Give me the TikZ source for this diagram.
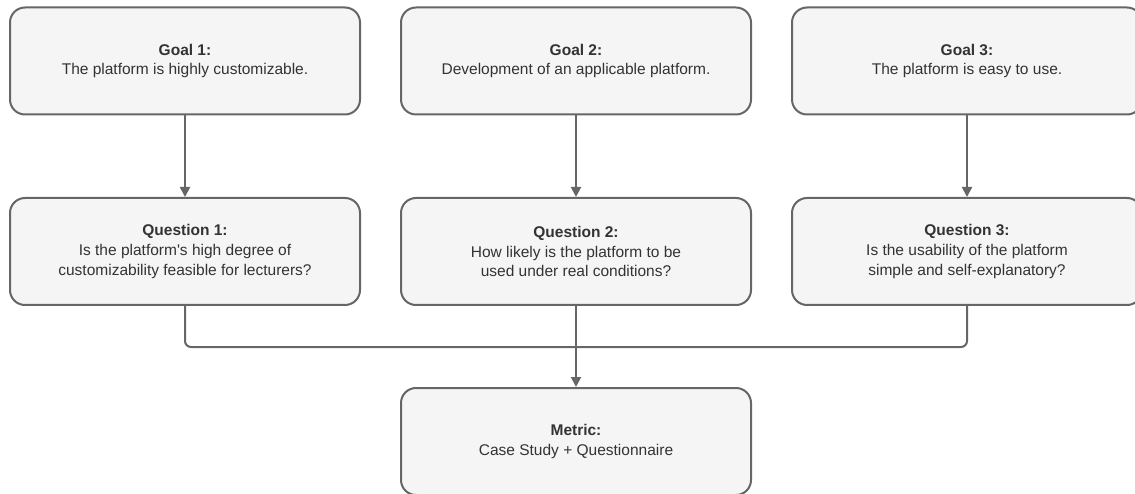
\documentclass[tikz,border=0pt]{standalone}
\usepackage{fontspec}
\setmainfont{Liberation Sans}[Ligatures=TeXOff]
\usetikzlibrary{arrows.meta}
\definecolor{boxfill}{HTML}{F5F5F5}
\definecolor{boxline}{HTML}{666666}
\definecolor{boxtext}{HTML}{333333}
\tikzset{
  box/.style={draw=boxline, fill=boxfill, line width=2pt, rounded corners=15pt,
    minimum width=350pt, minimum height=107pt, align=center, inner sep=0pt,
    font=\fontsize{15.5}{19.8}\selectfont, text=boxtext},
  link/.style={draw=boxline, line width=2pt, rounded corners=6pt},
  arrow/.style={link, -{Triangle[length=10pt, width=10pt]}}
}
\begin{document}
\begin{tikzpicture}[x=1pt, y=-1pt]
  \useasboundingbox (0,0) rectangle (1135,494);
  % goals
  \node[box] (g1) at (185,61) {\textbf{Goal 1:}\\The platform is highly customizable.};
  \node[box] (g2) at (576,61) {\textbf{Goal 2:}\\Development of an applicable platform.};
  \node[box] (g3) at (967,61) {\textbf{Goal 3:}\\The platform is easy to use.};
  % questions
  \node[box] (q1) at (185,251.5) {\textbf{Question 1:}\\Is the platform's high degree of\\customizability feasible for lecturers?};
  \node[box] (q2) at (576,251.5) {\textbf{Question 2:}\\How likely is the platform to be\\used under real conditions?};
  \node[box] (q3) at (967,251.5) {\textbf{Question 3:}\\Is the usability of the platform\\simple and self-explanatory?};
  % metric
  \node[box] (m) at (576,441.5) {\textbf{Metric:}\\Case Study + Questionnaire};
  % goal -> question arrows
  \draw[arrow] (g1) -- (q1);
  \draw[arrow] (g2) -- (q2);
  \draw[arrow] (g3) -- (q3);
  % questions merge into the metric
  \coordinate (j) at (576,347);
  \draw[link] (q1.south) |- (j);
  \draw[link] (q3.south) |- (j);
  \draw[arrow] (q2) -- (m);
\end{tikzpicture}
\end{document}
